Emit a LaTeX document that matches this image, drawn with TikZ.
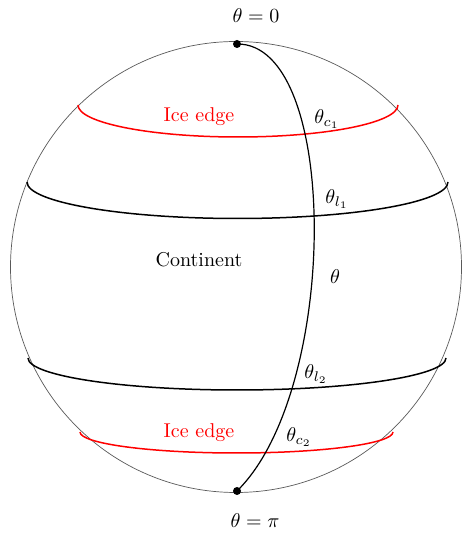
\documentclass[tikz,border=0pt]{standalone}
\begin{document}
\begin{tikzpicture}[x=0.5pt,y=0.5pt,
  sphere/.style={draw=black!65, line width=0.35pt},
  latline/.style={draw=black, line width=0.75pt},
  iceline/.style={draw=red, line width=0.75pt},
  meridian/.style={draw=black, line width=0.6pt},
  lbl/.style={inner sep=0pt, font=\normalsize},
  icelbl/.style={inner sep=0pt, text=red}]
\useasboundingbox (0,0) rectangle (462,534);
% sphere outline
\draw[sphere] (236,267) circle[radius=225.5];
% latitude lines
\draw[iceline] (78,429) arc[start angle=180, end angle=360, x radius=160, y radius=32];
\draw[latline] (27,352) arc[start angle=180, end angle=360, x radius=210.5, y radius=36.5];
\draw[latline] (28,176) arc[start angle=180, end angle=360, x radius=209, y radius=32];
\draw[iceline] (80,102) arc[start angle=180, end angle=360, x radius=156.5, y radius=21];
% poles
\coordinate (north) at (237,490);
\coordinate (south) at (237,43);
\draw[meridian] (north) .. controls (340,491) and (340,144) .. (south);
\fill (north) circle[radius=4];
\fill (south) circle[radius=4];
% labels
\node[lbl] (t0) at (256,518) {$\theta=0$};
\node[lbl] (tpi) at (255,13) {$\theta=\pi$};
\node[icelbl] (ice1) at (199,417) {Ice edge};
\node[icelbl] (ice2) at (199,101) {Ice edge};
\node[lbl] (cont) at (199,274) {Continent};
\node[lbl] (tc1) at (327,415) {$\theta_{c_1}$};
\node[lbl] (tl1) at (337,335) {$\theta_{l_1}$};
\node[lbl] (th) at (335,257) {$\theta$};
\node[lbl] (tl2) at (316,160) {$\theta_{l_2}$};
\node[lbl] (tc2) at (299,97) {$\theta_{c_2}$};
\end{tikzpicture}
\end{document}
